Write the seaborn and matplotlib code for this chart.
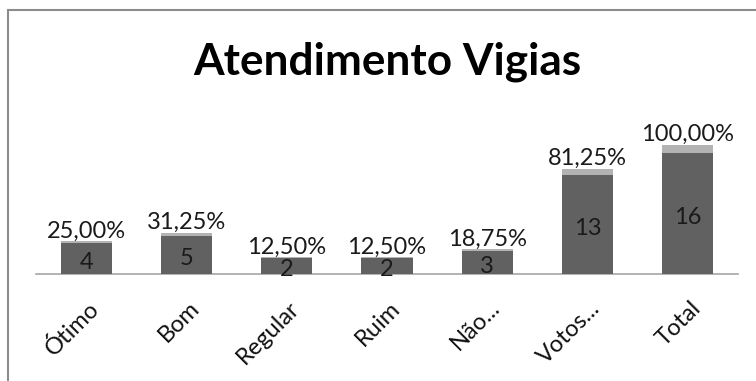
import matplotlib
matplotlib.use("Agg")
import matplotlib.pyplot as plt
import seaborn as sns
import pandas as pd
from matplotlib.patches import Rectangle
from matplotlib import transforms

categories = ["Ótimo", "Bom", "Regular", "Ruim", "Não...", "Votos...", "Total"]
counts = [4, 5, 2, 2, 3, 13, 16]
percents = [25.00, 31.25, 12.50, 12.50, 18.75, 81.25, 100.00]

df = pd.DataFrame({"categoria": categories, "votos": counts, "pct": percents})
df["topo"] = df["votos"] + df["pct"] / 100.0

sns.set_theme(style="white")
plt.rcParams["font.family"] = ["Lato", "DejaVu Sans"]

W, H = 756, 381
fig = plt.figure(figsize=(W / 100, H / 100), dpi=100)

# axes placed in pixel terms: baseline at y=273.5, 7 slots between x=36 and x=738
x0, x1 = 36, 738
y_base = 273.5
px_per_unit = 7.56
y_top = 100
ax = fig.add_axes([x0 / W, (H - y_base) / H, (x1 - x0) / W, (y_base - y_top) / H])

dark = "#616161"
light = "#b3b3b3"

sns.barplot(data=df, x="categoria", y="topo", color=light, width=0.51,
            saturation=1, linewidth=0, ax=ax, zorder=2)
sns.barplot(data=df, x="categoria", y="votos", color=dark, width=0.51,
            saturation=1, linewidth=0, ax=ax, zorder=3)

ax.set_xlim(-0.5, len(categories) - 0.5)
ax.set_ylim(0, (y_base - y_top) / px_per_unit)

for s in ["top", "right", "left"]:
    ax.spines[s].set_visible(False)
ax.spines["bottom"].set_color("#a6a6a6")
ax.spines["bottom"].set_linewidth(1.2)
ax.set_yticks([])
ax.set_xlabel("")
ax.set_ylabel("")
ax.tick_params(axis="x", length=0, pad=17)
ax.set_xticks(range(len(categories)))
ax.set_xticklabels(categories, rotation=45, ha="right", rotation_mode="anchor",
                   fontsize=17, color="#111111")
for lbl in ax.get_xticklabels():
    lbl.set_transform(lbl.get_transform() + transforms.ScaledTranslation(2 / 100, 0, fig.dpi_scale_trans))

down = transforms.ScaledTranslation(0, -4 / 100, fig.dpi_scale_trans)
up = transforms.ScaledTranslation(0, 0, fig.dpi_scale_trans)
for i, (c, p, t) in enumerate(zip(df["votos"], df["pct"], df["topo"])):
    ax.text(i, c / 2, f"{c}", ha="center", va="center", fontsize=17,
            color="#1a1a1a", zorder=4, transform=ax.transData + down)
    ax.text(i, t, f"{p:.2f}%".replace(".", ","), ha="center", va="bottom",
            fontsize=17, color="#1a1a1a", zorder=4, transform=ax.transData + up)

fig.text(387 / W, 1 - 62 / H, "Atendimento Vigias", ha="center", va="center",
         fontsize=31.8, fontweight="bold", color="black")

# chart area border
fig.patches.append(Rectangle((8 / W, -0.1), 1.2, 1 - 10 / H + 0.1,
                             transform=fig.transFigure, fill=False,
                             edgecolor="#8c8c8c", linewidth=1.5))

fig.savefig("out.png", dpi=100, facecolor="white")
